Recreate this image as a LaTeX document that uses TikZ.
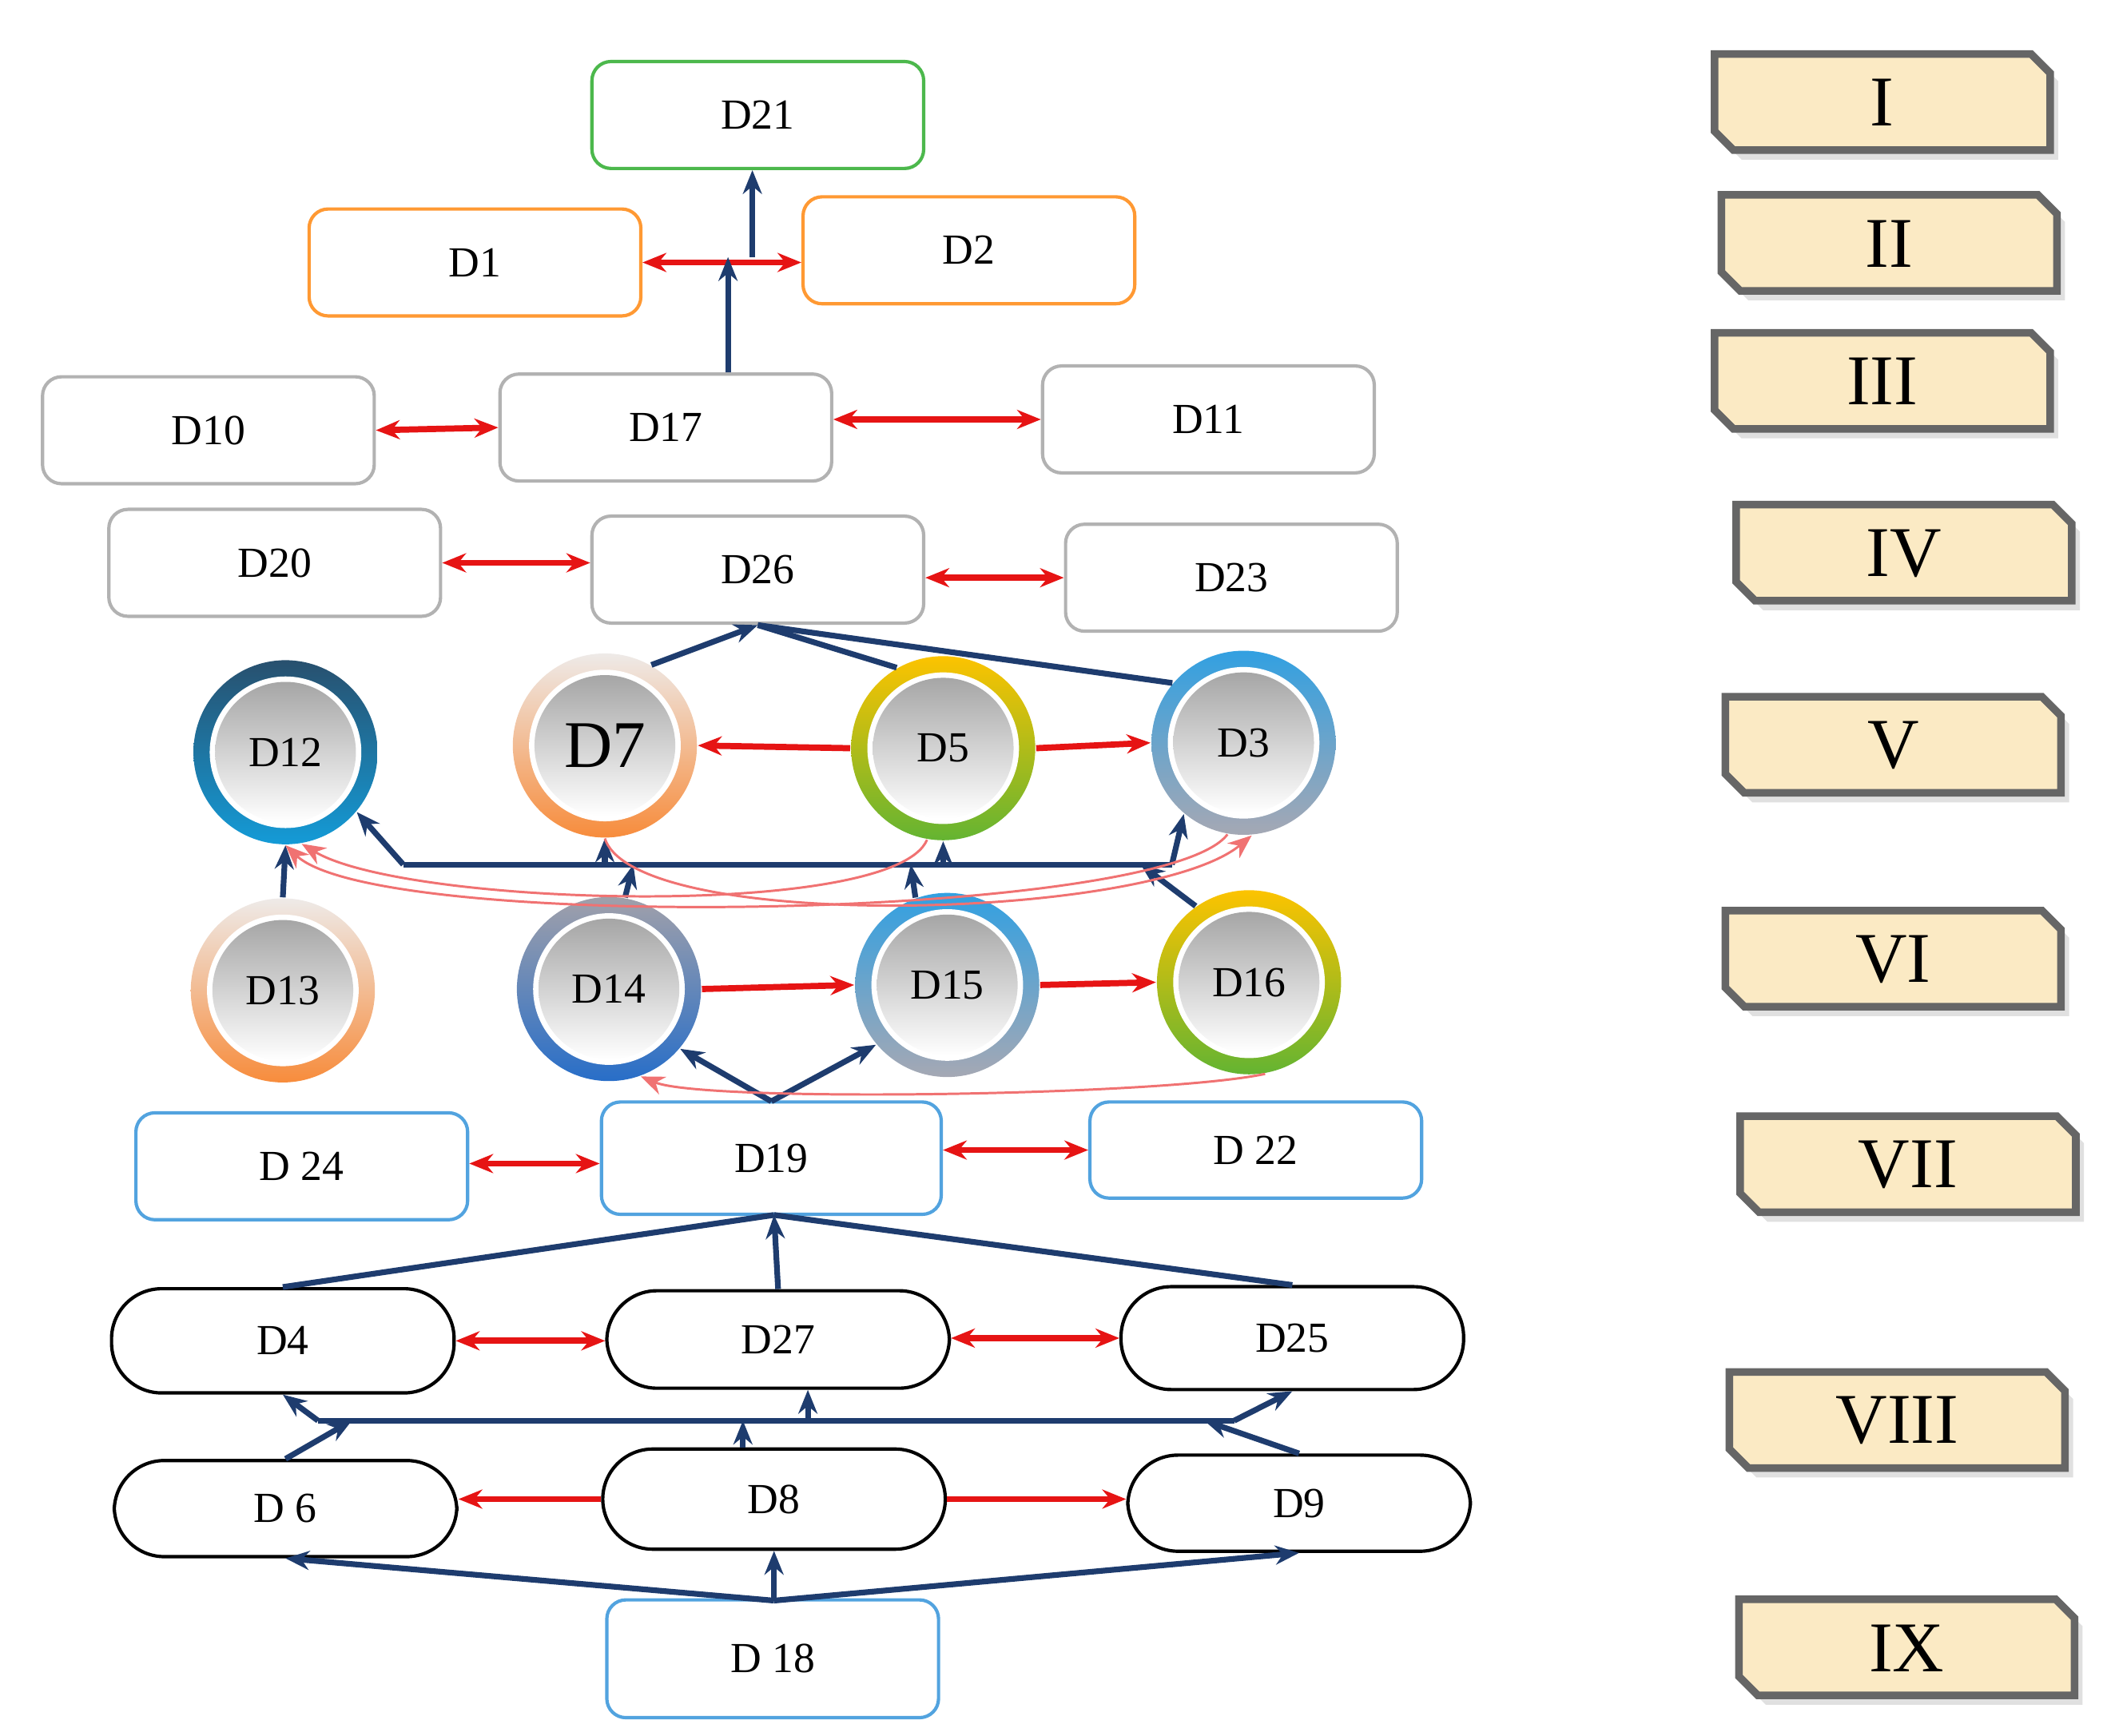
\documentclass[tikz,border=0pt]{standalone}
\usepackage{fontspec}
\setmainfont{Liberation Serif}
\usetikzlibrary{arrows.meta,shapes.misc}
\definecolor{dblue}{RGB}{30,60,110}
\definecolor{rred}{RGB}{230,20,20}
\definecolor{tan}{RGB}{251,234,196}
\tikzset{
 box/.style={draw=#1,rounded corners=4pt,line width=0.7pt,minimum width=2.45cm,minimum height=0.79cm,font=\fontsize{9}{10}\selectfont,fill=white},
 pill/.style={draw=black,rounded corners=0.37cm,line width=0.7pt,minimum width=2.53cm,minimum height=0.74cm,font=\fontsize{9}{10}\selectfont},
 ball/.style={circle,minimum size=1.36cm,font=\fontsize{9}{10}\selectfont},
 ra/.style={rred,line width=1.3pt,{Stealth[length=5pt,width=4pt]}-{Stealth[length=5pt,width=4pt]}},
 rs/.style={rred,line width=1.3pt,-{Stealth[length=5pt,width=4pt]}},
 ba/.style={dblue,line width=1.2pt,-{Stealth[length=5pt,width=4pt]}},
 bl/.style={dblue,line width=1.2pt},
 rc/.style={rred!60,line width=0.5pt,-{Stealth[length=5pt,width=4pt]}},
 lab/.style={font=\fontsize{15}{16}\selectfont,inner sep=0pt}
}
\newcommand\myball[5]{%
 \shade[top color=#3,bottom color=#4] #2 circle[radius=0.68cm];
 \fill[white] #2 circle[radius=0.56cm];
 \shade[top color=black!35,bottom color=white] #2 circle[radius=0.52cm];
 \node[ball] (#1) at #2 {#5};}
\newcommand\mylab[4]{% name, x1, y1, text
 \fill[black!12] (#2+6,#3+6) -- (#2+240,#3+6) -- (#2+254,#3+20) -- (#2+254,#3+78) -- (#2+20,#3+78) -- (#2+6,#3+64) -- cycle;
 \draw[fill=tan,draw=black!60,line width=1.6pt] (#2,#3) -- (#2+234,#3) -- (#2+248,#3+14) -- (#2+248,#3+71) -- (#2+14,#3+71) -- (#2,#3+57) -- cycle;
 \node[lab] (#1) at (#2+124,#3+36) {#4};}
\begin{document}
\begin{tikzpicture}[x=0.01cm,y=-0.01cm]
\useasboundingbox (0,0) rectangle (1560,1283);
% boxes
\node[box={green!60!black!70}] (D21) at (560,85) {D21};
\node[box={orange!80}] (D1) at (351,194) {D1};
\node[box={orange!80}] (D2) at (716,185) {D2};
\node[box=black!30] (D10) at (154,318) {D10};
\node[box=black!30] (D17) at (492,316) {D17};
\node[box=black!30] (D11) at (893,310) {D11};
\node[box=black!30] (D20) at (203,416) {D20};
\node[box=black!30] (D26) at (560,421) {D26};
\node[box=black!30] (D23) at (910,427) {D23};
\node[box={cyan!70!blue!70}] (D24) at (223,862) {D 24};
\node[box={cyan!70!blue!70},minimum width=2.51cm,minimum height=0.83cm] (D19) at (570,856) {D19};
\node[box={cyan!70!blue!70},minimum height=0.71cm] (D22) at (928,850) {D 22};
\node[box={cyan!70!blue!70},minimum height=0.87cm] (D18) at (571,1226) {D 18};
\node[pill,minimum height=0.77cm] (D4) at (209,991) {D4};
\node[pill,minimum height=0.72cm] (D27) at (575,990) {D27};
\node[pill,minimum height=0.76cm] (D25) at (955,989) {D25};
\node[pill,minimum height=0.71cm] (D6) at (211,1115) {D 6};
\node[pill] (D8) at (572,1108) {D8};
\node[pill,minimum height=0.71cm] (D9) at (960,1111) {D9};
% balls
\definecolor{c12a}{RGB}{40,80,110}\definecolor{c12b}{RGB}{20,155,215}
\definecolor{c7a}{RGB}{238,234,232}\definecolor{c7b}{RGB}{247,140,60}
\definecolor{c5a}{RGB}{252,195,0}\definecolor{c5b}{RGB}{100,180,50}
\definecolor{c3a}{RGB}{50,160,225}\definecolor{c3b}{RGB}{165,168,180}
\definecolor{c14a}{RGB}{160,160,170}\definecolor{c14b}{RGB}{40,110,200}
\myball{D12}{(211,556)}{c12a}{c12b}{D12}
\myball{D7}{(447,551)}{c7a}{c7b}{\fontsize{14}{15}\selectfont D7}
\myball{D5}{(697,553)}{c5a}{c5b}{D5}
\myball{D3}{(919,549)}{c3a}{c3b}{D3}
\myball{D13}{(209,732)}{c7a}{c7b}{D13}
\myball{D14}{(450,731)}{c14a}{c14b}{D14}
\myball{D15}{(700,728)}{c3a}{c3b}{D15}
\myball{D16}{(923,726)}{c5a}{c5b}{D16}
% labels
\mylab{LI}{1267}{40}{I}
\mylab{LII}{1272}{144}{II}
\mylab{LIII}{1267}{246}{III}
\mylab{LIV}{1283}{373}{IV}
\mylab{LV}{1275}{515}{V}
\mylab{LVI}{1275}{673}{VI}
\mylab{LVII}{1286}{825}{VII}
\mylab{LVIII}{1278}{1014}{VIII}
\mylab{LIX}{1285}{1182}{IX}
% top connectors
\coordinate (j1) at (538,190);
\coordinate (j2) at (556,190);
\draw[ra] (D1.east) -- (D2.west |- D1.east);
\draw[ba] (D17.north -| j1) -- (j1);
\draw[ba] (j2) -- (D21.south -| j2);
\draw[ra] (D10.east) -- (D17.west);
\draw[ra] (D17.east |- D11.west) -- (D11.west);
\draw[ra] (D20.east) -- (D26.west |- D20.east);
\draw[ra] (D26.east |- D23.west) -- (D23.west);
% circles to D26
\coordinate (t26) at (560,462);
\draw[ba] (D7.60) -- (t26);
\draw[bl] (D5.120) -- (t26);
\draw[bl] (D3.140) -- (t26);
\draw[rs] (D5.west) -- (D7.east);
\draw[rs] (D5.east) -- (D3.west);
% bus
\coordinate (bL) at (298,639);
\coordinate (bR) at (866,639);
\draw[bl] (bL) -- (bR);
\draw[ba] (bL) -- (D12.-40);
\draw[ba] (bR) -- (D3.-130);
\draw[ba] (447,639) -- (D7.south);
\draw[ba] (697,639) -- (D5.south);
\draw[ba] (D13.north) -- (D12.south);
\draw[ba] (D14.80) -- (468,639);
\draw[ba] (D15.110) -- (673,639);
\draw[ba] (D16.125) -- (843,639);
\draw[rs] (D14.east) -- (D15.west);
\draw[rs] (D15.east) -- (D16.west);
\coordinate (t19) at (570,814);
\draw[ba] (t19) -- (D14.-40);
\draw[ba] (t19) -- (D15.-140);
% red curves
\draw[rc] (D16.-80) .. controls (860,810) and (520,815) .. (D14.-70);
\draw[rc] (D5.-100) .. controls (660,680) and (300,670) .. (D12.-80);
\draw[rc] (D3.-100) .. controls (860,680) and (280,690) .. (D12.-90);
\draw[rc] (D7.-90) .. controls (470,690) and (850,680) .. (D3.-85);
% D19 row
\draw[ra] (D24.east |- 0,860) -- (D19.west |- 0,860);
\draw[ra] (D19.east |- D22.west) -- (D22.west);
\coordinate (b19) at (572,898);
\draw[bl] (D4.north) -- (b19);
\draw[ba] (D27.north) -- (b19);
\draw[bl] (D25.north) -- (b19);
\draw[ra] (D4.east) -- (D27.west |- D4.east);
\draw[ra] (D27.east |- D25.west) -- (D25.west);
% lower bus
\coordinate (cL) at (235,1050);
\coordinate (cR) at (912,1050);
\draw[bl] (cL) -- (cR);
\draw[ba] (cL) -- (D4.south);
\draw[ba] (cR) -- (D25.south);
\draw[ba] (597,1050) -- (D27.south -| 597,0);
\draw[ba] (D6.north) -- (260,1050);
\draw[ba] (D8.north -| 549,0) -- (549,1050);
\draw[ba] (D9.north) -- (890,1050);
\draw[rs] (D8.west) -- (D6.east |- D8.west);
\draw[rs] (D8.east) -- (D9.west |- D8.east);
\coordinate (t18) at (572,1183);
\draw[ba] (t18) -- (D6.south);
\draw[ba] (t18) -- (D8.south);
\draw[ba] (t18) -- (D9.south);
\end{tikzpicture}
\end{document}
